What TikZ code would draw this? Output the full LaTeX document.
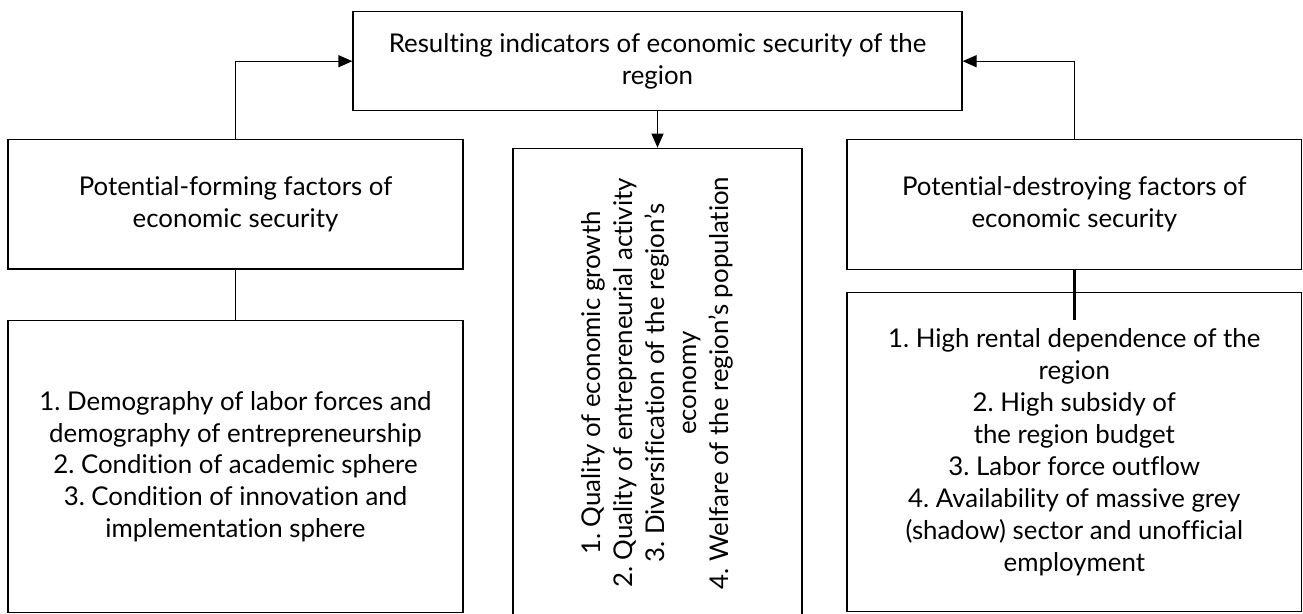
\documentclass[tikz,border=0pt]{standalone}
\usepackage{fontspec}
\setmainfont{Lato}[Ligatures=NoCommon]
\frenchspacing
\usetikzlibrary{arrows.meta, positioning}
\tikzset{%
	every box/.style={
		draw,
		line width=0.7pt,
		align=center,
		inner sep=0pt,
		font=\fontsize{14.7}{18.2}\selectfont
	},
	link/.style={
		line width=0.7pt,
		-{Triangle[length=0.28cm, width=0.24cm]}
	},
}

\begin{document}
\begin{tikzpicture}
			\useasboundingbox (0,0) rectangle (26.06,-12.28);
			
			% Draw the top box
			\node[every box, minimum width=12.18cm, minimum height=1.98cm] (result) at (13.15,-1.224)
				{Resulting indicators of economic security of the\\region};
			
			% Draw the left boxes
			\node[every box, minimum width=9.1cm, minimum height=2.59cm] (forming) at (4.71,-4.085)
				{Potential-forming factors of\\economic security};
			\node[every box, minimum width=9.1cm, minimum height=5.84cm] (formlist) at (4.71,-9.334)
				{1. Demography of labor forces and\\demography of entrepreneurship\\2. Condition of academic sphere\\3. Condition of innovation and\\implementation sphere};
			
			% Draw the middle box (rotated, so its east side is on top)
			\node[every box, rotate=90, minimum width=9.39cm, minimum height=5.78cm] (indic) at (13.15,-7.66)
				{1. Quality of economic growth\\2. Quality of entrepreneurial activity\\3. Diversification of the region’s\\economy\\4. Welfare of the region’s population};
			
			% Draw the right boxes
			\node[every box, minimum width=9.09cm, minimum height=2.6cm] (destroying) at (21.486,-4.083)
				{Potential-destroying factors of\\economic security};
			\node[every box, minimum width=9.09cm, minimum height=6.38cm] (destlist) at (21.486,-9.044)
				{1. High rental dependence of the\\region\\2. High subsidy of\\the region budget\\3. Labor force outflow\\4. Availability of massive grey\\(shadow) sector and unofficial\\employment};
			\coordinate (destend) at (21.486,-6.4);
			
			% Draw the arrows
			\draw[link] (forming.north) |- (result.west);
			\draw[link] (destroying.north) |- (result.east);
			\draw[link] (result.south) -- (indic.east);
			\draw[line width=0.7pt] (forming.south) -- (formlist.north);
			\draw[line width=1.8pt] (destroying.south) -- (destend);
		\end{tikzpicture}
\end{document}
